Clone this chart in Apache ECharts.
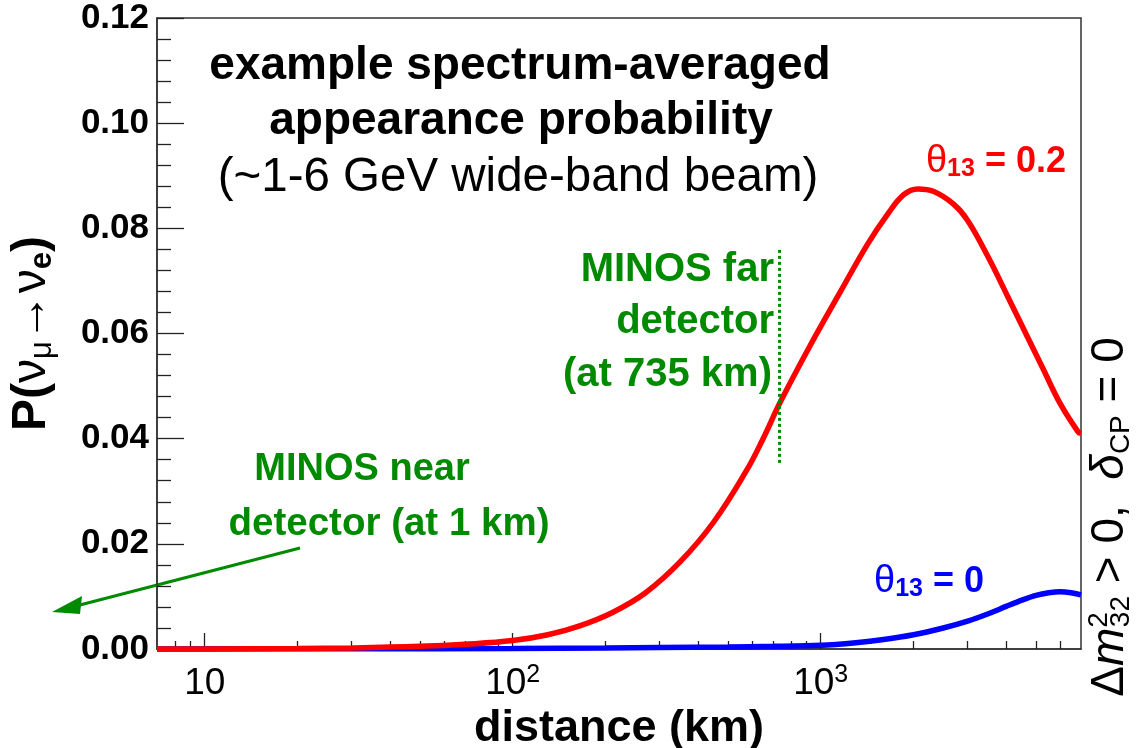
<!DOCTYPE html>
<html>
<head>
<meta charset="utf-8">
<script src="https://cdn.jsdelivr.net/npm/echarts@6/dist/echarts.min.js"></script>
<style>
  html, body { margin: 0; padding: 0; background: #ffffff; }
  #chart { width: 1137px; height: 748px; }
</style>
</head>
<body>
<div id="chart"></div>
<script>
// Spectrum-averaged nu_mu -> nu_e appearance probability versus baseline
const FONT = '"Liberation Sans", Arial, Helvetica, sans-serif';
const GREEN = '#008a00';

// theta13 = 0.2 curve
const redDist = [7, 10, 20, 30, 50, 70, 100, 130, 165, 210, 270, 350, 450, 575, 650, 740, 930, 1160, 1420, 1650, 1860, 2065, 2330, 2700, 3000, 3500, 4050, 4570, 5300, 6000, 6850, 7000];
const redProb = [0, 0.00002, 0.0001, 0.0002, 0.0005, 0.0009, 0.0016, 0.0027, 0.0044, 0.0069, 0.0107, 0.0166, 0.0242, 0.034, 0.040, 0.047, 0.058, 0.068, 0.077, 0.0827, 0.0864, 0.0875, 0.0870, 0.0846, 0.0815, 0.0745, 0.067, 0.0607, 0.053, 0.0466, 0.0413, 0.041];

// theta13 = 0 curve
const blueDist = [7, 30, 100, 200, 300, 500, 700, 1000, 1300, 1600, 2000, 2500, 3000, 3500, 4000, 4500, 5000, 5500, 6000, 6500, 7000];
const blueProb = [0, 0.00005, 0.0001, 0.0002, 0.0003, 0.0004, 0.0005, 0.0007, 0.0012, 0.0018, 0.0027, 0.004, 0.0053, 0.0067, 0.0081, 0.0093, 0.0102, 0.0107, 0.0109, 0.0107, 0.0103];

// MINOS far detector marker
const farDetectorKm = 735;
const farMarkerProb = [0.0354, 0.0759];

// axis ticks
const xMajorTicks = [10, 100, 1000];
const xTickLabels = ['10', '10{sup|2}', '10{sup|3}'];
const xMinorTicks = [8, 9, 20, 30, 40, 50, 60, 70, 80, 90, 200, 300, 400, 500, 600, 700, 800, 900, 2000, 3000, 4000, 5000, 6000];
const yTicks = [0, 0.02, 0.04, 0.06, 0.08, 0.10, 0.12];

function pairs(xs, ys) { return xs.map((x, i) => [x, ys[i]]); }

function majorLabel(v) {
  let best = 0, bestErr = Infinity;
  xMajorTicks.forEach((t, i) => {
    const e = Math.abs(Math.log10(v) - Math.log10(t));
    if (e < bestErr) { bestErr = e; best = i; }
  });
  return xTickLabels[best];
}

const chart = echarts.init(document.getElementById('chart'), null, { renderer: 'canvas' });

const axisCommon = {
  type: 'log', logBase: 10, min: 7, max: 7000, position: 'bottom', offset: 0,
  splitLine: { show: false }, minorSplitLine: { show: false }
};

const option = {
  backgroundColor: '#ffffff',
  animation: false,
  grid: {
    left: 157, top: 18, width: 924, height: 631,
    containLabel: false, outerBoundsMode: 'none',
    show: true, borderColor: '#333333', borderWidth: 1.5, backgroundColor: 'transparent'
  },
  xAxis: [
    Object.assign({}, axisCommon, {
      axisLine: { show: true, lineStyle: { color: '#333333', width: 1.5 } },
      axisTick: { show: true, inside: true, length: 16, customValues: xMajorTicks, lineStyle: { color: '#222222', width: 1.3 } },
      axisLabel: {
        show: true, customValues: xMajorTicks, margin: 14,
        color: '#000000', fontFamily: FONT, fontSize: 37, lineHeight: 42,
        formatter: majorLabel,
        rich: { sup: { fontFamily: FONT, fontSize: 25, lineHeight: 6, verticalAlign: 'top', color: '#000000' } }
      },
      name: 'distance (km)', nameLocation: 'middle', nameGap: 57, nameMoveOverlap: false,
      nameTextStyle: { fontFamily: FONT, fontSize: 45, fontWeight: 'bold', color: '#000000' }
    }),
    Object.assign({}, axisCommon, {
      axisLine: { show: false },
      axisTick: { show: true, inside: true, length: 8, customValues: xMinorTicks, lineStyle: { color: '#222222', width: 1.3 } },
      axisLabel: { show: false }
    })
  ],
  yAxis: {
    type: 'value', min: 0, max: 0.12, interval: 0.02,
    splitLine: { show: false },
    axisLine: { show: true, lineStyle: { color: '#333333', width: 1.5 } },
    axisTick: { show: true, inside: true, length: 27, customValues: yTicks, lineStyle: { color: '#222222', width: 1.3 } },
    minorTick: { show: true, splitNumber: 5, length: 14, lineStyle: { color: '#222222', width: 1.3 } },
    axisLabel: {
      margin: 8, color: '#000000', fontFamily: FONT, fontSize: 35, fontWeight: 'bold',
      formatter: v => v.toFixed(2)
    },
    name: '{b|P(}{g|ν}{sub|μ}{g|→ν}{sube|e}{b|)}',
    nameLocation: 'middle', nameRotate: 90, nameGap: 99, nameMoveOverlap: false,
    nameTextStyle: {
      fontFamily: FONT, fontSize: 48, fontWeight: 'bold', color: '#000000', lineHeight: 52,
      rich: {
        b: { fontFamily: FONT, fontSize: 48, fontWeight: 'bold', lineHeight: 52, color: '#000' },
        g: { fontFamily: FONT, fontSize: 48, fontWeight: 'normal', lineHeight: 52, color: '#000' },
        sub: { fontFamily: FONT, fontSize: 31, fontWeight: 'normal', lineHeight: 10, verticalAlign: 'bottom', color: '#000' },
        sube: { fontFamily: FONT, fontSize: 31, fontWeight: 'bold', lineHeight: 10, verticalAlign: 'bottom', color: '#000' }
      }
    }
  },
  series: [
    {
      name: 'theta13 = 0', type: 'line', xAxisIndex: 0, data: pairs(blueDist, blueProb),
      showSymbol: false, smooth: 0.3, clip: false,
      lineStyle: { color: '#0000ff', width: 5.5 }, z: 3
    },
    {
      name: 'theta13 = 0.2', type: 'line', xAxisIndex: 0, data: pairs(redDist, redProb),
      showSymbol: false, smooth: 0.4, clip: false,
      lineStyle: { color: '#ff0000', width: 5.5 }, z: 4
    },
    {
      name: 'MINOS far', type: 'line', xAxisIndex: 0,
      data: [[farDetectorKm, farMarkerProb[0]], [farDetectorKm, farMarkerProb[1]]],
      showSymbol: false, clip: false,
      lineStyle: { color: GREEN, width: 3, type: [3, 3] }, z: 5
    }
  ],
  graphic: [
    { type: 'text', x: 520, y: 66, style: { text: 'example spectrum-averaged', fontFamily: FONT, fontSize: 46, fontWeight: 'bold', fill: '#000', align: 'center', verticalAlign: 'middle' } },
    { type: 'text', x: 521, y: 121, style: { text: 'appearance probability', fontFamily: FONT, fontSize: 46, fontWeight: 'bold', fill: '#000', align: 'center', verticalAlign: 'middle' } },
    { type: 'text', x: 518, y: 178, style: { text: '(~1-6 GeV wide-band beam)', fontFamily: FONT, fontSize: 47.5, fontWeight: 'normal', fill: '#000', align: 'center', verticalAlign: 'middle' } },

    { type: 'text', x: 774, y: 270, style: { text: 'MINOS far', fontFamily: FONT, fontSize: 40, fontWeight: 'bold', fill: GREEN, align: 'right', verticalAlign: 'middle' } },
    { type: 'text', x: 774, y: 322, style: { text: 'detector', fontFamily: FONT, fontSize: 40, fontWeight: 'bold', fill: GREEN, align: 'right', verticalAlign: 'middle' } },
    { type: 'text', x: 772, y: 375, style: { text: '(at 735 km)', fontFamily: FONT, fontSize: 40, fontWeight: 'bold', fill: GREEN, align: 'right', verticalAlign: 'middle' } },

    { type: 'text', x: 362, y: 470, style: { text: 'MINOS near', fontFamily: FONT, fontSize: 38, fontWeight: 'bold', fill: GREEN, align: 'center', verticalAlign: 'middle' } },
    { type: 'text', x: 389, y: 524, style: { text: 'detector (at 1 km)', fontFamily: FONT, fontSize: 38.5, fontWeight: 'bold', fill: GREEN, align: 'center', verticalAlign: 'middle' } },

    { type: 'line', shape: { x1: 300, y1: 548, x2: 76, y2: 606 }, style: { stroke: GREEN, lineWidth: 3 } },
    { type: 'polygon', shape: { points: [[52, 612], [82, 596], [80, 614]] }, style: { fill: GREEN } },

    {
      type: 'text', x: 1066, y: 162,
      style: {
        text: '{g|θ}{sub|13}{b| = 0.2}', align: 'right', verticalAlign: 'middle', fill: '#ff0000',
        rich: {
          g: { fontFamily: FONT, fontSize: 38, fontWeight: 'normal', lineHeight: 40, fill: '#ff0000' },
          sub: { fontFamily: FONT, fontSize: 25, fontWeight: 'bold', lineHeight: 8, verticalAlign: 'bottom', fill: '#ff0000' },
          b: { fontFamily: FONT, fontSize: 36, fontWeight: 'bold', lineHeight: 40, fill: '#ff0000' }
        }
      }
    },
    {
      type: 'text', x: 984, y: 582,
      style: {
        text: '{g|θ}{sub|13}{b| = 0}', align: 'right', verticalAlign: 'middle', fill: '#0000ff',
        rich: {
          g: { fontFamily: FONT, fontSize: 38, fontWeight: 'normal', lineHeight: 40, fill: '#0000ff' },
          sub: { fontFamily: FONT, fontSize: 25, fontWeight: 'bold', lineHeight: 8, verticalAlign: 'bottom', fill: '#0000ff' },
          b: { fontFamily: FONT, fontSize: 36, fontWeight: 'bold', lineHeight: 40, fill: '#0000ff' }
        }
      }
    },
    {
      type: 'text', x: 1110, y: 517, rotation: Math.PI / 2,
      style: {
        text: '{n|Δ}{it|m}{sup|2}{sub|32}{n| > 0,  }{it|δ}{subcp|CP}{n| = 0}',
        align: 'center', verticalAlign: 'middle', fill: '#000',
        rich: {
          n: { fontFamily: FONT, fontSize: 46, lineHeight: 50, fill: '#000' },
          it: { fontFamily: FONT, fontSize: 46, fontStyle: 'italic', lineHeight: 50, fill: '#000' },
          sup: { fontFamily: FONT, fontSize: 28, lineHeight: 10, verticalAlign: 'top', fill: '#000' },
          sub: { fontFamily: FONT, fontSize: 28, lineHeight: 10, verticalAlign: 'bottom', padding: [0, 0, 0, -15], fill: '#000' },
          subcp: { fontFamily: FONT, fontSize: 28, lineHeight: 10, verticalAlign: 'bottom', fill: '#000' }
        }
      }
    }
  ]
};

chart.setOption(option);
</script>
</body>
</html>
